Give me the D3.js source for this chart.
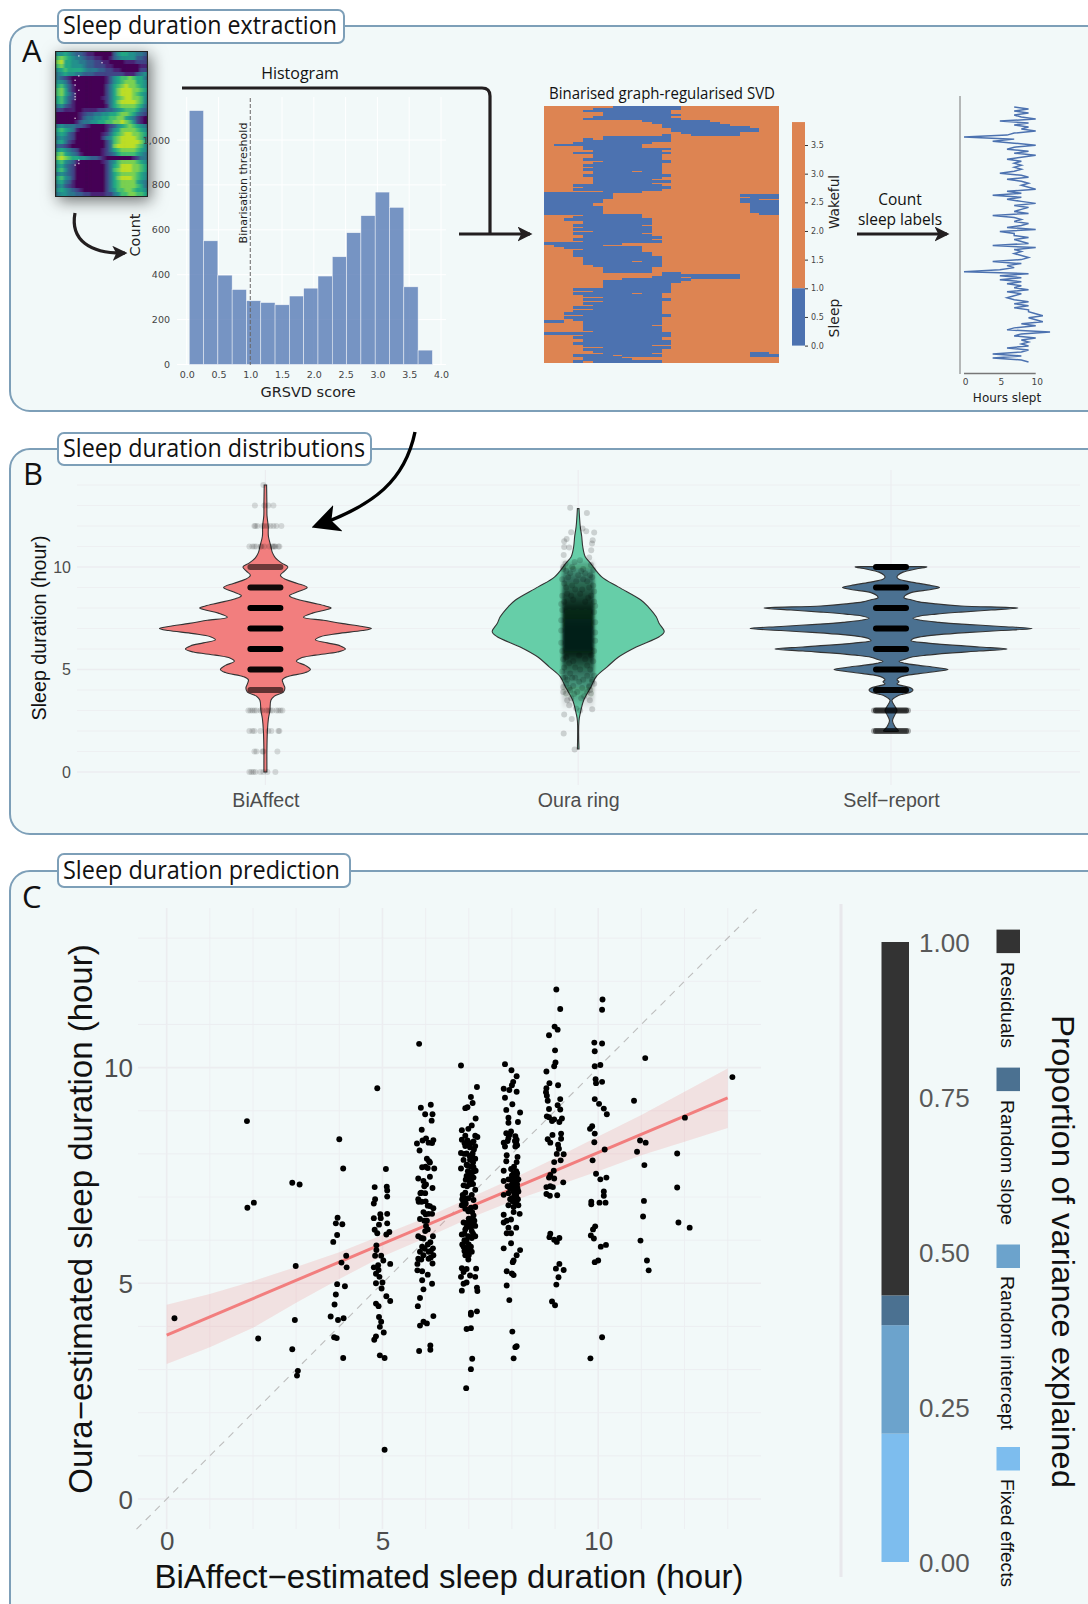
<!DOCTYPE html>
<html>
<head>
<meta charset="utf-8">
<script src="https://cdn.jsdelivr.net/npm/d3@7"></script>
<style>
body { margin: 0; background: #fff; }
svg { display: block; }
.ann { font-family: "Open Sans", sans-serif; fill: #111; }
.mpl text, .mpl { font-family: "DejaVu Sans", sans-serif; }
.gg text, .gg { font-family: "Liberation Sans", Arial, sans-serif; }
</style>
</head>
<body>
<div id="chart"></div>
<script>
// A: raw matrix, digits are viridis levels 0-9, rows top to bottom
var rawMatrix = [
  "556543321100000356655443","787654432211001345555332","896655443322110000111222",
  "786655543322211000000011","567666654443322110000022","456554433322222222111345",
  "432100000000013567787664","554200000000013567888665","675310000000024678988765",
  "786310000000024689998876","786420000000024689998765","675320000000124678998875",
  "675310000000024689999875","453210000000014678888764","221110011112233456777643",
  "000000123344556678876432","000000134455667788654210","000001344556677889875210",
  "454443321000012356787654","676541000000013568888765","565320000000124678998876",
  "454320000000245789999875","564210000000024789999986","332100000000024899999875",
  "565432000000124678888765","786543100000123467777654","898766554332100000001244",
  "675431000000124578888765","564320000000024679998876","675320000000024789998876",
  "454320000000024678888765","675420000000024689998765","564310000000024678888654",
  "453210000000024678888764","565432100000024577887665","455443322111122457788776"
];
var rawSpecks = [[5.9,0.8],[12,2.5],[5.9,5.8],[4.9,6.9],[4.9,8.1],[5.9,9.4],[4.9,10.25],[4.9,11],[4.9,11.7],[4.9,16.4],[5.9,26.9],[5.9,27.7],[4.9,28.1]];

// A: histogram
var histLeft = [0.04,0.265,0.49,0.715,0.94,1.165,1.39,1.615,1.84,2.065,2.29,2.515,2.74,2.965,3.19,3.415,3.64];
var histCount = [1131,551,398,334,284,276,266,305,340,394,480,587,663,768,700,346,64];
var histBinWidth = 0.225;
var histXTicks = [0,0.5,1,1.5,2,2.5,3,3.5,4];
var histYTicks = [0,200,400,600,800,1000];

// A: binarised SVD, blue hour intervals per row [start,end,start,end...]
var sleepRows = [
  [7,14],[5,14],[4,13],[6,13],[6,14],[5,13],[4,14],[10,17],[11,18],[12,19],[12,21],[13,22],[13,22],[14,20],[12,13,15,20],
  [6,13],[4,5,6,13],[4,13],[3,11],[1,10],[4,10],[4,13],[5,12],[3,13],[5,12],[5,12],[4,12],[6,13],[5,12],[4,12],[5,12],
  [4,12],[5,9,10,12],[5,12],[4,13],[5,12],[5,11],[5,13],[5,11],[3,12],[4,13],[3,12],[6,10],[0,7],[0,7,20,24],[0,7,21,24],
  [0,6,20,22],[0,6,20,24],[0,5,21,24],[0,5,21,24],[0,6,21,24],[0,6,21,24],[0,6,21,24],[0,6,22,24],[4,10],[3,10],[2,11],
  [4,11],[4,11],[3,10],[4,11],[3,11],[5,11],[3,10],[4,11],[4,12],[3,11],[4,12],[0,8],[1,6],[2,10],[4,10],[3,10],[3,11],
  [3,11],[4,12],[4,12],[4,9,10,12],[4,12],[5,12],[6,11],[6,11],[6,11],[12,14],[12,20],[11,14,15,20],[8,15],[6,14],[6,13],
  [6,13],[6,13],[3,13],[5,13],[3,9,10,12],[4,12],[6,12],[4,13],[6,12],[4,12],[5,12],[3,12],[5,12],[3,12],[2,12],[4,13],
  [2,12],[3,12],[0,2,4,12],[4,12],[4,11],[4,12],[4,12],[5,12],[0,13],[4,13],[3,12],[4,12],[4,13],[3,13],[4,11],[6,13],
  [4,12],[5,12],[6,11,21,23],[3,7,8,12,21,24],[4,8],[4,9],[3,4,5,12]
];
var colorbarTicks = [0,0.5,1,1.5,2,2.5,3,3.5];

// A: hours slept per row, same rows as the heatmap
var hoursSlept = [
  7,9,7,9,7,8,10,5,9,7,9,8,10,7,6,0, 7,4,7,10,7,6,9,7,10,8,6,8,7,8,7,8,
  7,5,8,9,6,8,9,8,9,10,6,8,4,8,6,8, 10,7,9,8,7,9,4,7,8,7,9,8,6,10,5,7,
  7,9,7,8,9,4,10,7,8,7,8,9,8,4,8,6, 7,5,0,9,5,8,5,8,6,8,7,9,6,8,7,6,
  7,9,7,9,7,9,9,10,11,9,10,11,8,10,7,6, 12,8,7,10,8,9,8,9,6,9,8,4,8,4,8,9
];
var hoursTicks = [0,5,10];

// B: violin outlines, relative width at each hour
var violinGroups = ["BiAffect","Oura ring","Self\u2212report"];
var biaffectHours = [14,13,12.5,12,11.5,11,10.7,10.45,10.2,10,9.8,9.6,9.4,9.2,9,8.8,8.6,8.45,8.25,8.1,8,7.9,7.75,7.55,7.4,7.25,7.1,7,6.9,6.75,6.6,6.45,6.3,6.15,6,5.85,5.7,5.55,5.4,5.2,5,4.85,4.65,4.5,4.3,4.1,3.9,3.7,3.5,3,2.6,2,1,0.3,0];
var biaffectWidth = [1.2,1.5,1.6,2.8,3,5.5,7,10,16,22.5,19,15,20,32,41.8,33,24,30,47,60,65.7,60,47,38,58,76,97,106,97,72,55,50,62,75,80,72,50,35,31,40,45,40,22,17,18,19.5,18,9,5.5,4.5,3,2,1.5,1.5,1.5];
var ouraHours = [12.85,12,11.5,11,10.5,10.2,9.52,9.03,8.38,8.06,7.57,7.24,6.84,6.6,6.1,5.6,5.13,4.65,4.15,3.5,2.85,2.5,1.12];
var ouraWidth = [0.8,2,3.5,4.5,7,12,23.5,40,63,70,78,81,86,81,58,40,29,18,12.7,5.5,2,0.8,0.8];
var selfHours = [10.02,10,9.9,9.75,9.6,9.5,9.4,9.25,9.1,9,8.9,8.75,8.6,8.5,8.4,8.3,8.2,8.1,8,7.9,7.8,7.7,7.6,7.5,7.4,7.3,7.2,7.1,7,6.9,6.8,6.7,6.6,6.5,6.4,6.3,6.2,6.1,6,5.9,5.8,5.7,5.6,5.5,5.4,5.3,5.2,5.1,5,4.9,4.8,4.7,4.6,4.5,4.4,4.3,4.2,4.1,4,3.9,3.8,3.7,3.5,3.2,3,2.8,2.5,2.2,2,1.98];
var selfWidth = [30,36,25,12,7,6,8,22,40,48.5,40,20,14,13,20,28,45,70,127,100,70,45,28,22,30,48,75,110,141,110,75,48,30,22,20,35,58,88,116,88,58,35,20,14,8,14,28,45,57,45,28,14,8,6,8,6,12,20,22,20,12,6,1,4,6,4,1.5,4,7.5,5];

// B: jitter, hour and horizontal offset of each observation
var biaffectSparse = [
  [14,[-2]],[13,[-10.5,-1,3,8]],[12,[-11,-10,-8,-3,-1,2,5,8,11,16]],[11,[-16,-13,-11,-9,-5,-4,-1,4,7,8,9,10,13,14]],
  [3,[-17,-15,-13,-11,-9,-5,-3,1,3,5,7,11,13,15,17]],[2,[-16,-13,-11,-5,3,6,13,14]],[1,[-11,-9,-3,-2,12]],[0,[-16,-14,-12,-10,-5,-2,2,10]]
];
var bandOffsets = [-17,-15,-13,-11,-9,-7,-5,-3,-1,1,3,5,7,9,11,13,15,17];
var biaffectBandHours = [10,9,8,7,6,5,4];
var biaffectBandAlpha = [0.55,0.92,1,1,1,0.95,0.6];
var selfBandHours = [10,9,8,7,6,5,4,3,2];
var selfBandAlpha = [1,1,1,1,1,1,0.95,0.5,0.4];
var ouraOutliers = [
  [-8,12.89],[8.7,12.64],[4.3,11.88],[8,11.75],[16,11.68],[-7,11.7],[-11.6,11.36],[-14,11.26],[14.5,11.3],[13.8,11.15],[-14,10.98],[-9,10.95],[13,10.82],
  [-14.5,10.58],[11,10.46],[-12.7,10.17],[12.7,10.1],[1.8,10.33],[-3.6,10.25],[-15,10],[-6,10],[5,9.9],[15,9.85],[-12,3.83],[12.7,3.83],[-11,3.5],[11.6,3.5],
  [-9,3.26],[14,3.06],[-14,2.8],[-6.5,2.58],[-14.5,1.88],[-3.6,1.1],[10.9,4.15],[16,4.3],[-15,4.15],[-2,3.1],[2,3],[-8,4],[6,3.7],[-13,4.6],[14,4.5]
];
var ouraSpeckle = [
  [-15,9.9],[-8,9.7],[3,9.8],[12,9.6],[-16,9.4],[-2,9.3],[9,9.3],[15,9.1],[-12,9],[4,8.9],[16,8.8],[-16,8.6],[-7,8.6],[10,8.5],[-14,8.3],[16,8.3],[-16,7.9],[16,7.8],
  [-17,7.4],[17,7.3],[-17,6.9],[17,6.8],[-17,6.3],[17,6.4],[-16,5.9],[16,5.9],[-15,5.5],[-5,5.4],[7,5.5],[15,5.4],[-14,5.1],[2,5],[12,5],[-16,4.9],[-8,4.8],[16,4.7],[-11,4.5],[5,4.5],[-5,4.2],[11,4.2],[-1,3.9],[9,3.9],
  [-12,9.8],[-5,9.9],[7,9.7],[14,9.5],[-10,9.5],[0,9.6],[5,9.4],[-14,9.2],[-6,9.1],[11,9],[-3,8.9],[-11,8.7],[2,8.7],[13,8.6],[-5,8.4],[7,8.3],[-17,8.2],[17,8.1],
  [-12,5.6],[1,5.7],[13,5.7],[-9,5.3],[9,5.2],[-3,5.1],[-15,4.6],[-6,4.6],[9,4.7],[1,4.4],[14,4.4],[-12,4.3],[-3,4.6],[4,4.1],[-9,4.1],[-4,3.8],[12,4],[-15,3.9],[3,3.6],[-7,3.6]
];
var ouraBandHours = [10.4,10,9.5,9,8.5,8,7,6,5.7,5.2,4.7,4,3.5,3];
var ouraBandAlpha = [0,0.25,0.5,0.62,0.78,0.93,0.99,0.99,0.9,0.65,0.45,0.25,0.12,0];

// C: scatter, grouped by BiAffect hour
var scatterLow = [
  [0.18,4.19],[1.86,8.76],[1.87,6.75],[2.02,6.87],[2.12,3.72],[2.91,7.33],[3.08,7.29],[2.99,5.4],[2.97,4.15],[2.91,3.47],[3.04,2.97],[3.02,2.86]
];
var scatter4 = [
  [4,8.34],[4.09,7.66],[3.96,6.52],[3.92,6.39],[4.07,6.37],[3.95,6.12],[3.86,5.96],[4.16,5.64],[4.05,5.48],[4.17,5.37],[3.95,4.98],[4.13,4.93],[3.92,4.74],[3.89,4.51],[3.8,4.23],[3.97,4.15],[4.1,4.19],[3.88,3.75],[3.94,3.73],[4.09,3.27]
];
var scatter5 = [
  [4.88,9.52],[5.08,7.65],[4.82,7.23],[5.1,7.24],[5.11,7.15],[5.11,7.01],[4.83,6.95],[4.8,6.85],[5.11,6.61],[4.95,6.6],[4.8,6.51],[4.96,6.51],[5.11,6.39],[4.92,6.36],[4.82,6.24],[4.88,6.16],[5.16,6.19],[5.09,6.13],[4.86,5.88],[4.86,5.77],[4.97,5.64],[4.83,5.64],[5.02,5.53],[5.18,5.45],[4.9,5.42],[4.8,5.37],[4.91,5.31],[4.85,5.22],[4.93,5.15],[4.85,5],[5,5.02],[4.98,4.88],[5.09,4.7],[5.18,4.59],[4.85,4.53],[4.91,4.47],[4.92,4.22],[4.97,4.11],[4.94,3.99],[5.03,3.86],[4.85,3.77],[4.81,3.69],[4.94,3.33],[5.05,3.27],[5.05,1.14]
];
var scatter6 = [
  [5.85,10.55],[6.12,9.14],[5.89,9.07],[5.99,8.92],[6.16,8.92],[6.14,8.77],[5.91,8.56],[6.01,8.36],[5.8,8.24],[5.93,8.31],[6.07,8.26],[6.18,8.32],[6.15,8.25],[5.86,8.08],[6.03,7.89],[6.08,7.83],[5.92,7.69],[6.05,7.67],[6.2,7.66],[6.1,7.47],[5.83,7.43],[5.95,7.37],[6.01,7.29],[6.16,7.21],[5.99,7.09],[5.88,7.09],[5.83,6.95],[5.91,6.89],[5.84,6.89],[6.1,6.79],[6.18,6.74],[5.95,6.65],[6.07,6.61],[6.15,6.61],[5.87,6.49],[6.03,6.45],[6.01,6.33],[5.99,6.21],[5.83,6.09],[5.95,6.04],[6.17,6.09],[6.11,5.95],[5.92,5.85],[6.17,5.81],[5.87,5.73],[6.07,5.73],[5.95,5.65],[6.18,5.65],[5.83,5.57],[6.07,5.57],[5.81,5.45],[6.16,5.46],[5.81,5.3],[5.92,5.28],[6.05,5.2],[5.92,5.07],[6.15,4.99],[5.95,4.86],[5.87,4.66],[5.82,4.47],[6.18,4.24],[5.95,4.11],[6.03,4.07],[5.87,4.02],[6.11,3.56],[6.11,3.46],[5.85,3.43],
  [5.9,7.1],[6,6.9],[6.05,6.8],[6,6.6],[5.97,6.45],[6.05,6.25],[5.9,6.05],[6.05,5.9],[6.12,5.75],[5.98,5.8],[6.12,5.6],[5.9,5.55],[6.1,7.8],[6,7.7],[5.97,7.25]
];
var scatter7 = [
  [6.82,10.05],[7.19,9.55],[7.05,9.32],[7.09,9.18],[6.97,9.08],[6.92,9.06],[7.16,8.82],[7.07,8.66],[6.99,8.58],[6.84,8.55],[6.92,8.42],[7.15,8.42],[6.84,8.33],[6.97,8.31],[7.11,8.29],[7.2,8.39],[6.92,8.18],[7.03,8.15],[7.15,8.18],[6.82,8.02],[6.95,8.01],[7.09,8.01],[6.88,7.86],[7.03,7.86],[7.15,7.89],[6.97,7.73],[7.11,7.69],[6.82,7.66],[7.05,7.57],[7.16,7.61],[6.95,7.49],[7.11,7.45],[7.02,7.37],[6.88,7.27],[7.15,7.17],[7.02,7.29],[6.86,7.05],[7.07,7.05],[6.99,6.97],[6.88,6.89],[7.11,6.93],[6.84,6.81],[6.92,6.73],[7.15,6.77],[6.99,6.67],[7.11,6.57],[6.88,6.41],[7.03,6.41],[7.15,6.33],[6.92,6.25],[7.07,6.21],[6.84,6.13],[6.99,6.09],[7.15,6.09],[7.07,6.05],[6.92,5.97],[6.88,5.85],[7.03,5.81],[6.95,5.73],[7.07,5.73],[6.92,5.65],[6.99,5.55],[6.84,5.35],[6.95,5.33],[7.17,5.34],[6.88,5.26],[7.03,5.18],[7.15,5.15],[6.82,5.15],[6.88,4.99],[6.95,5.02],[6.84,4.83],[7.19,4.9],[7.2,4.82],[7.19,4.35],[7.05,4.32],[7.05,4.27],[7.05,3.96],[6.95,3.94],[7.08,3.25],[7.05,3.01],[6.94,2.57],
  [7,8.2],[7.08,7.95],[7.05,7.7],[6.98,7.6],[7.06,7.35],[6.92,6.95],[7.08,6.5],[6.95,6.3],[7.12,6.35],[6.9,6],[7,5.9],[6.85,5.9],
  [6.9,8.25],[7.05,8.25],[7.12,8.1],[6.9,8],[7.02,7.95],[6.95,7.75],[7.1,7.8],[7.12,7.6],[7,7.45],[7.07,7.5],[6.93,7.4],[6.96,7.25],[7.1,7.3],[6.87,7],[6.92,7.1],[6.85,6.95],[6.93,6.85],[7.05,6.75],[7.08,6.65],[7,6.5],[7.13,6.45],[6.95,6.4],[7.05,6.3],[6.9,6.15],[7.1,6.15],[6.95,6],[7.05,5.85],[6.97,5.8],[6.9,5.75],[7,5.65]
];
var scatter8 = [
  [7.84,10.08],[7.99,9.94],[8.11,9.8],[8.03,9.67],[8,9.59],[7.81,9.51],[7.94,9.48],[8.11,9.44],[7.84,9.3],[8.01,9.15],[7.87,9.02],[8.19,8.96],[7.92,8.84],[8.14,8.74],[7.92,8.72],[7.87,8.48],[7.98,8.52],[7.81,8.26],[7.92,8.37],[8.08,8.41],[8.11,8.33],[7.84,8.17],[8.08,8.17],[7.88,7.97],[8.13,7.93],[7.87,7.83],[8.11,7.81],[7.81,7.61],[7.98,7.65],[8.11,7.49],[7.81,7.37],[7.92,7.41],[8.04,7.45],[8.15,7.41],[8,7.29],[8.11,7.25],[7.81,7.05],[7.92,7.09],[8.04,7.13],[8.15,7.13],[8,6.97],[8.11,6.97],[7.92,6.81],[8.04,6.77],[8.15,6.81],[7.81,6.59],[8.04,6.65],[8.18,6.61],[7.88,6.45],[7.81,6.41],[7.98,6.48],[7.92,6.29],[8.1,6.29],[7.88,6.16],[7.98,6.16],[7.98,5.93],[7.81,5.81],[8.19,5.77],[8.11,5.65],[8.04,5.53],[8.02,5.49],[7.88,5.28],[8,5.23],[8.04,5.19],[7.88,4.95],[7.94,4.61],[8.01,3.88],[8.11,3.54],[8.08,3.52],[8.04,3.26],
  [8.02,7.35],[8.08,7.2],[7.96,7.2],[8.06,7.05],[8.12,7.3],[7.9,7.25],[8,7.5],
  [8.05,7.7],[8.1,7.6],[8.04,7.55],[8.12,7.55],[8.08,7.4],[8,7.4],[8.13,7.2],[8.05,7.25],[8.1,7.05],[8.02,6.9],[8.1,6.85],[8.05,6.95],[7.96,6.95],[8.14,6.95],[8.1,8.25],[8.07,8.3],[7.95,8.45],[7.9,8.3],[8.12,8.2]
];
var scatter9 = [
  [9.03,11.81],[9.12,11.36],[8.99,10.95],[9.06,10.88],[8.86,10.75],[9,10.4],[9.01,10.12],[8.98,10.03],[8.8,9.91],[8.87,9.64],[9.07,9.59],[8.8,9.52],[8.79,9.43],[8.81,9.35],[8.83,9.23],[9.12,9.27],[8.86,9.04],[9.06,9.13],[9.12,9.03],[8.81,8.87],[8.86,8.85],[8.93,8.76],[8.98,8.8],[9.1,8.74],[9.16,8.82],[8.94,8.44],[9.14,8.47],[8.83,8.34],[8.89,8.26],[9.14,8.35],[9.07,8.21],[9.09,8.12],[9.2,7.99],[9.04,8],[9.13,7.85],[8.98,7.81],[8.97,7.61],[8.89,7.51],[8.98,7.43],[8.86,7.45],[9.19,7.34],[8.8,7.23],[8.95,7.23],[8.89,7.25],[8.8,7.07],[8.88,7.03],[9.05,7.04],[8.89,6.15],[8.87,6.07],[9.1,6.05],[8.98,6.01],[9.04,5.96],[9.1,5.45],[9.02,5.34],[9.2,5.31],[9.08,5.14],[9.03,4.97],[8.93,4.58],[9,4.49]
];
var scatter10 = [
  [10.1,11.58],[10.09,11.34],[9.91,10.58],[10.09,10.56],[9.92,10.38],[10.05,10.06],[9.92,10.03],[9.94,9.73],[10.09,9.67],[9.95,9.64],[9.92,9.27],[10.02,9.16],[10.13,9.05],[10.2,8.92],[9.86,8.64],[9.81,8.58],[9.92,8.47],[9.91,8.27],[10.15,8.1],[9.87,7.85],[9.95,7.54],[10.05,7.41],[10.19,7.45],[10.13,7.13],[10.13,7.03],[9.84,6.89],[9.84,6.83],[10.03,6.87],[10.17,6.87],[9.93,6.32],[9.88,6.25],[9.83,6.11],[9.9,6.04],[10.06,5.85],[10.18,5.89],[9.92,5.49],[10,5.53],[10.09,3.75],[9.82,3.26]
];
var scatterHigh = [
  [11.09,10.22],[10.83,9.23],[10.97,8.31],[11.1,8.26],[10.9,8.05],[11.07,7.74],[11.06,6.91],[11.04,6.55],[10.98,5.99],[11.13,5.53],[11.17,5.3],[12.01,8.84],[11.83,8.01],[11.83,7.22],[11.86,6.41],[12.12,6.29],[13.11,9.78]
];
var fitX = [0,13];
var fitY = [3.8,9.3];
var ciX = [0,1,2,3,4,5,6,7,8,9,10,11,12,13];
var ciUpper = [4.5,4.75,5.05,5.38,5.72,6.12,6.52,6.97,7.42,7.9,8.4,8.9,9.44,9.98];
var ciLower = [3.13,3.52,3.97,4.55,5.1,5.62,6.05,6.5,6.9,7.25,7.6,7.97,8.28,8.6];
var scatterTicks = [0,5,10];
var scatterGrid = [0,1,2,3,4,5,6,7,8,9,10,11,12,13];

// C: variance decomposition
var varianceNames = ["Fixed effects","Random intercept","Random slope","Residuals"];
var varianceShare = [0.207,0.175,0.048,0.57];
var varianceColors = ["#7dbdee","#6ca3cc","#4b7191","#333333"];
var varianceTicks = [0,0.25,0.5,0.75,1];

var width = 1088, height = 1604;
var panelFill = "#f2f9f9", panelStroke = "#7d9fb8", gridColor = "#ecedf0";

var svg = d3.select("#chart").append("svg").attr("width", width).attr("height", height);
var defs = svg.append("defs");

defs.append("filter").attr("id", "shadow").attr("x", "-40%").attr("y", "-40%").attr("width", "180%").attr("height", "180%")
  .append("feDropShadow").attr("dx", 3).attr("dy", 4).attr("stdDeviation", 8).attr("flood-color", "#000").attr("flood-opacity", 0.55);
defs.append("filter").attr("id", "soft").attr("x", "-20%").attr("y", "-10%").attr("width", "140%").attr("height", "120%")
  .append("feGaussianBlur").attr("stdDeviation", 1.5);
defs.append("filter").attr("id", "softer").attr("filterUnits", "userSpaceOnUse")
  .attr("x", 56).attr("y", 52).attr("width", 91).attr("height", 144)
  .append("feGaussianBlur").attr("stdDeviation", "1,0.5");

function marker(id, color, size) {
  defs.append("marker").attr("id", id).attr("viewBox", "0 0 12 12").attr("refX", 10).attr("refY", 6)
    .attr("markerWidth", size).attr("markerHeight", size).attr("markerUnits", "userSpaceOnUse").attr("orient", "auto")
    .append("path").attr("d", "M0,0 L12,6 L0,12 L3,6 Z").attr("fill", color);
}
marker("arrowDark", "#231f20", 15);
marker("arrowBig", "#000", 28);

function panel(x, y, w, h) {
  svg.append("rect").attr("x", x).attr("y", y).attr("width", w).attr("height", h).attr("rx", 20)
    .attr("fill", panelFill).attr("stroke", panelStroke).attr("stroke-width", 2);
}
function titleBox(text, x, y, w, h, textX, baseY, textW, letter, lx, ly) {
  svg.append("rect").attr("x", x).attr("y", y).attr("width", w).attr("height", h).attr("rx", 6)
    .attr("fill", "#fff").attr("stroke", panelStroke).attr("stroke-width", 2);
  svg.append("text").attr("class", "ann").attr("x", textX).attr("y", baseY).attr("font-size", 26)
    .attr("textLength", textW).attr("lengthAdjust", "spacingAndGlyphs").text(text);
  svg.append("text").attr("class", "ann").attr("x", lx).attr("y", ly).attr("font-size", 31).text(letter);
}
function cleanAxis(g, size, color) {
  g.select(".domain").remove();
  g.selectAll("text").attr("font-size", size).attr("fill", color);
}

panel(10, 26, 1100, 385);
panel(10, 449, 1100, 385);
panel(10, 871, 1100, 760);
titleBox("Sleep duration extraction", 58, 10, 286, 33, 63, 34, 274, "A", 22, 62);
titleBox("Sleep duration distributions", 58, 433, 313, 32, 63, 457, 302, "B", 23, 485);
titleBox("Sleep duration prediction", 58, 854, 292, 33, 63, 879, 277, "C", 22, 908);

// ---------- panel A ----------
var rawX = d3.scaleBand().domain(d3.range(rawMatrix[0].length)).range([56, 147]);
var rawY = d3.scaleBand().domain(d3.range(rawMatrix.length)).range([52, 196]);
var rawG = svg.append("g");
rawG.append("rect").attr("x", 55).attr("y", 51).attr("width", 93).attr("height", 146)
  .attr("fill", "#222").attr("filter", "url(#shadow)");
var rawCells = rawG.append("g").attr("filter", "url(#softer)");
rawMatrix.forEach(function (row, r) {
  rawCells.selectAll(null).data(row.split("")).enter().append("rect")
    .attr("x", function (d, c) { return rawX(c); })
    .attr("y", rawY(r))
    .attr("width", rawX.bandwidth() + 0.5)
    .attr("height", rawY.bandwidth() + 0.5)
    .attr("fill", function (d) { return d3.interpolateViridis(+d / 9 * 0.9); });
});
rawG.selectAll(".speck").data(rawSpecks).enter().append("rect").attr("class", "speck")
  .attr("x", function (d) { return rawX(0) + d[0] * rawX.step(); })
  .attr("y", function (d) { return rawY(0) + d[1] * rawY.step(); })
  .attr("width", 1).attr("height", 1.4).attr("fill", "#fff");

// histogram
var histG = svg.append("g").attr("class", "mpl");
var histX = d3.scaleLinear().domain([0, 4]).range([186.7, 441]);
var histY = d3.scaleLinear().domain([0, 1000]).range([364.5, 140]);
histG.selectAll(".gx").data(histXTicks).enter().append("line")
  .attr("x1", histX).attr("x2", histX).attr("y1", 97).attr("y2", 365).attr("stroke", "#fff").attr("stroke-width", 1);
histG.selectAll(".gy").data(histYTicks).enter().append("line")
  .attr("x1", 177).attr("x2", 446).attr("y1", histY).attr("y2", histY).attr("stroke", "#fff").attr("stroke-width", 1);
histG.selectAll(".bar").data(histCount).enter().append("rect")
  .attr("x", function (d, i) { return histX(histLeft[i]); })
  .attr("width", histX(histBinWidth) - histX(0))
  .attr("y", histY)
  .attr("height", function (d) { return histY(0) - histY(d); })
  .attr("fill", "#4c72b0").attr("fill-opacity", 0.75).attr("stroke", "#fff").attr("stroke-opacity", 0.75).attr("stroke-width", 0.6);
histG.append("line").attr("x1", histX(1)).attr("x2", histX(1)).attr("y1", 98).attr("y2", 365)
  .attr("stroke", "#666").attr("stroke-width", 1).attr("stroke-dasharray", "4,2");
histG.append("g").attr("transform", "translate(0,365)")
  .call(d3.axisBottom(histX).tickValues(histXTicks).tickFormat(d3.format(".1f")).tickSize(0).tickPadding(6))
  .call(cleanAxis, 9.5, "#444").attr("font-family", null);
histG.append("g").attr("transform", "translate(170,0)")
  .call(d3.axisLeft(histY).tickValues(histYTicks).tickSize(0).tickPadding(0))
  .call(cleanAxis, 9.5, "#444").attr("font-family", null);
histG.append("text").attr("x", 308).attr("y", 397).attr("text-anchor", "middle").attr("font-size", 14.5).attr("fill", "#222").text("GRSVD score");
histG.append("text").attr("transform", "translate(140,235) rotate(-90)").attr("text-anchor", "middle").attr("font-size", 14.5).attr("fill", "#222").text("Count");
histG.append("text").attr("transform", "translate(247,183) rotate(-90)").attr("text-anchor", "middle").attr("font-size", 11).attr("fill", "#222").text("Binarisation threshold");

// arrows of panel A
svg.append("path").attr("d", "M182,88 H482 Q490,88 490,96 V234").attr("fill", "none").attr("stroke", "#231f20").attr("stroke-width", 3.2);
svg.append("path").attr("d", "M459,234 H530").attr("fill", "none").attr("stroke", "#231f20").attr("stroke-width", 3.2).attr("marker-end", "url(#arrowDark)");
svg.append("path").attr("d", "M75,213 C70,240 90,254 125,253").attr("fill", "none").attr("stroke", "#231f20").attr("stroke-width", 3.2).attr("marker-end", "url(#arrowDark)");
svg.append("path").attr("d", "M857,234 H947").attr("fill", "none").attr("stroke", "#231f20").attr("stroke-width", 3.2).attr("marker-end", "url(#arrowDark)");
svg.append("text").attr("class", "ann").attr("x", 300).attr("y", 79).attr("text-anchor", "middle").attr("font-size", 16).text("Histogram");
svg.append("text").attr("class", "ann").attr("x", 662).attr("y", 99).attr("text-anchor", "middle").attr("font-size", 15.5)
  .attr("textLength", 226).attr("lengthAdjust", "spacingAndGlyphs").text("Binarised graph-regularised SVD");
svg.append("text").attr("class", "ann").attr("x", 900).attr("y", 205).attr("text-anchor", "middle").attr("font-size", 15.5).text("Count");
svg.append("text").attr("class", "ann").attr("x", 900).attr("y", 225).attr("text-anchor", "middle").attr("font-size", 15.5).text("sleep labels");

// binarised SVD
var hourX = d3.scaleLinear().domain([0, 24]).range([544, 779]);
var rowY = d3.scaleBand().domain(d3.range(sleepRows.length)).range([106, 362.5]);
var heatG = svg.append("g").attr("shape-rendering", "crispEdges");
heatG.append("rect").attr("x", hourX(0)).attr("y", rowY(0)).attr("width", hourX(24) - hourX(0)).attr("height", rowY.step() * sleepRows.length).attr("fill", "#dd8452");
sleepRows.forEach(function (row, r) {
  for (var i = 0; i < row.length; i += 2) {
    heatG.append("rect").attr("x", hourX(row[i])).attr("y", rowY(r))
      .attr("width", hourX(row[i + 1]) - hourX(row[i])).attr("height", rowY.bandwidth() + 0.4).attr("fill", "#4c72b0");
  }
});

// colourbar
var cbY = d3.scaleLinear().domain([0, 3.5]).range([345.6, 145]);
var cbG = svg.append("g").attr("class", "mpl");
cbG.append("rect").attr("x", 792).attr("y", cbY(3.9)).attr("width", 13).attr("height", cbY(1) - cbY(3.9)).attr("fill", "#dd8452");
cbG.append("rect").attr("x", 792).attr("y", cbY(1)).attr("width", 13).attr("height", cbY(0) - cbY(1)).attr("fill", "#4c72b0");
var cbAxis = cbG.append("g").attr("transform", "translate(805,0)")
  .call(d3.axisRight(cbY).tickValues(colorbarTicks).tickFormat(d3.format(".1f")).tickSize(3).tickPadding(3));
cbAxis.select(".domain").remove();
cbAxis.selectAll("line").attr("stroke", "#333");
cbAxis.selectAll("text").attr("font-size", 8).attr("fill", "#444").attr("font-family", null);
cbG.append("text").attr("transform", "translate(839,202) rotate(-90)").attr("text-anchor", "middle").attr("font-size", 13.7).attr("fill", "#222").text("Wakeful");
cbG.append("text").attr("transform", "translate(839,318) rotate(-90)").attr("text-anchor", "middle").attr("font-size", 14).attr("fill", "#222").text("Sleep");

// hours slept trace
var traceX = d3.scaleLinear().domain([0, 10]).range([964, 1035.7]);
var traceY = d3.scaleLinear().domain([0, hoursSlept.length - 1]).range([107, 362]);
var traceG = svg.append("g").attr("class", "mpl");
traceG.append("path").datum(hoursSlept).attr("fill", "none").attr("stroke", "#4c72b0").attr("stroke-width", 1.5)
  .attr("d", d3.line().x(function (d) { return traceX(d); }).y(function (d, i) { return traceY(i); }));
traceG.append("line").attr("x1", 960).attr("x2", 960).attr("y1", 96).attr("y2", 374).attr("stroke", "#777").attr("stroke-width", 1);
traceG.append("line").attr("x1", traceX(0)).attr("x2", traceX(10)).attr("y1", 373.5).attr("y2", 373.5).attr("stroke", "#777").attr("stroke-width", 1.4);
traceG.append("g").attr("transform", "translate(1,376)")
  .call(d3.axisBottom(traceX).tickValues(hoursTicks).tickSize(0).tickPadding(3))
  .call(cleanAxis, 9, "#444").attr("font-family", null);
traceG.append("text").attr("x", 1007).attr("y", 402).attr("text-anchor", "middle").attr("font-size", 12).attr("fill", "#222").text("Hours slept");

// ---------- panel B ----------
var violinG = svg.append("g").attr("class", "gg");
var catX = d3.scalePoint().domain(violinGroups).range([265.4, 891]);
var durY = d3.scaleLinear().domain([0, 10]).range([772, 567]);
var jitterX = d3.scaleLinear().domain([-20, 20]).range([-20, 20]);
var hourGrid = d3.range(0, 15);

violinG.selectAll(".hg").data(hourGrid).enter().append("line")
  .attr("x1", 77).attr("x2", 1080).attr("y1", durY).attr("y2", durY)
  .attr("stroke", gridColor).attr("stroke-width", function (d) { return d % 5 === 0 ? 1.4 : 0.8; });
violinG.selectAll(".vg").data(violinGroups).enter().append("line")
  .attr("x1", catX).attr("x2", catX).attr("y1", 470).attr("y2", 785).attr("stroke", gridColor).attr("stroke-width", 1.2);

function violin(group, hours, widths, maxPx, fill) {
  var w = d3.scaleLinear().domain([0, d3.max(widths)]).range([0, maxPx]);
  var area = d3.area().curve(d3.curveCatmullRom.alpha(0.5))
    .y(function (d) { return durY(d); })
    .x0(function (d, i) { return catX(group) - w(widths[i]); })
    .x1(function (d, i) { return catX(group) + w(widths[i]); });
  violinG.append("path").datum(hours).attr("d", area).attr("fill", fill).attr("stroke", "#333").attr("stroke-width", 1.1);
}
violin(violinGroups[0], biaffectHours, biaffectWidth, 106, "#f27e7e");
violin(violinGroups[1], ouraHours, ouraWidth, 86, "#66cea8");
violin(violinGroups[2], selfHours, selfWidth, 141, "#4b7191");

function dotRow(group, hour, offsets, alpha) {
  violinG.append("g").selectAll("circle").data(offsets).enter().append("circle")
    .attr("cx", function (d) { return catX(group) + jitterX(d); })
    .attr("cy", durY(hour)).attr("r", 3).attr("fill", "#000").attr("fill-opacity", alpha);
}
biaffectSparse.forEach(function (d) { dotRow(violinGroups[0], d[0], d[1], 0.13); });
biaffectBandHours.forEach(function (h, i) {
  violinG.append("line").attr("x1", catX(violinGroups[0]) + jitterX(-15)).attr("x2", catX(violinGroups[0]) + jitterX(15))
    .attr("y1", durY(h)).attr("y2", durY(h)).attr("stroke", "#000").attr("stroke-width", 6).attr("stroke-linecap", "round").attr("stroke-opacity", biaffectBandAlpha[i]);
});
selfBandHours.forEach(function (h, i) {
  if (selfBandAlpha[i] < 0.9) {
    dotRow(violinGroups[2], h, bandOffsets, 0.3);
  }
  violinG.append("line").attr("x1", catX(violinGroups[2]) + jitterX(-15)).attr("x2", catX(violinGroups[2]) + jitterX(15))
    .attr("y1", durY(h)).attr("y2", durY(h)).attr("stroke", "#000").attr("stroke-width", 6).attr("stroke-linecap", "round").attr("stroke-opacity", selfBandAlpha[i]);
});

var ouraGrad = defs.append("linearGradient").attr("id", "ouraBand").attr("gradientUnits", "userSpaceOnUse")
  .attr("x1", 0).attr("x2", 0).attr("y1", durY(10.4)).attr("y2", durY(3));
ouraBandHours.forEach(function (h, i) {
  ouraGrad.append("stop").attr("offset", (durY(h) - durY(10.4)) / (durY(3) - durY(10.4))).attr("stop-color", "#021a12").attr("stop-opacity", ouraBandAlpha[i]);
});
violinG.append("rect").attr("x", catX(violinGroups[1]) + jitterX(-16)).attr("width", jitterX(16) - jitterX(-16))
  .attr("y", durY(10.4)).attr("height", durY(3) - durY(10.4)).attr("rx", 4).attr("fill", "url(#ouraBand)").attr("filter", "url(#soft)");
violinG.append("g").selectAll("circle").data(ouraSpeckle.concat(ouraOutliers)).enter().append("circle")
  .attr("cx", function (d) { return catX(violinGroups[1]) + jitterX(d[0]); })
  .attr("cy", function (d) { return durY(d[1]); })
  .attr("r", 3).attr("fill", "#000").attr("fill-opacity", 0.16);

violinG.append("g").attr("transform", "translate(0,785)")
  .call(d3.axisBottom(catX).tickSize(0).tickPadding(8))
  .call(cleanAxis, 19.6, "#4d4d4d").attr("font-family", null);
violinG.append("g").attr("transform", "translate(71,0)")
  .call(d3.axisLeft(durY).tickValues(scatterTicks).tickSize(0).tickPadding(0))
  .call(cleanAxis, 16, "#4d4d4d").attr("font-family", null);
violinG.append("text").attr("transform", "translate(46,628) rotate(-90)").attr("text-anchor", "middle").attr("font-size", 19.7).attr("fill", "#111").text("Sleep duration (hour)");

// big arrow from panel A down to panel B
svg.append("path").attr("d", "M415,432 C405,480 375,505 316,526").attr("fill", "none").attr("stroke", "#000").attr("stroke-width", 3.4).attr("marker-end", "url(#arrowBig)");

// ---------- panel C ----------
var scatterG = svg.append("g").attr("class", "gg");
var xC = d3.scaleLinear().domain([0, 10]).range([166.7, 598.2]);
var yC = d3.scaleLinear().domain([0, 10]).range([1499, 1067.6]);
var scatterPoints = scatterLow.concat(scatter4, scatter5, scatter6, scatter7, scatter8, scatter9, scatter10, scatterHigh);

scatterG.selectAll(".gv").data(scatterGrid).enter().append("line")
  .attr("x1", xC).attr("x2", xC).attr("y1", 908).attr("y2", 1529)
  .attr("stroke", gridColor).attr("stroke-width", function (d) { return d % 5 === 0 ? 1.6 : 0.9; });
scatterGrid.forEach(function (d) {
  scatterG.append("line").attr("x1", 138).attr("x2", 761).attr("y1", yC(d)).attr("y2", yC(d))
    .attr("stroke", gridColor).attr("stroke-width", d % 5 === 0 ? 1.6 : 0.9);
});
scatterG.append("line").attr("x1", xC(-0.7)).attr("y1", yC(-0.7)).attr("x2", xC(13.67)).attr("y2", yC(13.67))
  .attr("stroke", "#bdbdbd").attr("stroke-width", 1.1).attr("stroke-dasharray", "7,6");
scatterG.append("path").datum(ciX).attr("fill", "#f08080").attr("fill-opacity", 0.2)
  .attr("d", d3.area().x(function (d) { return xC(d); })
    .y0(function (d, i) { return yC(ciLower[i]); })
    .y1(function (d, i) { return yC(ciUpper[i]); }));
scatterG.append("line").attr("x1", xC(fitX[0])).attr("y1", yC(fitY[0])).attr("x2", xC(fitX[1])).attr("y2", yC(fitY[1]))
  .attr("stroke", "#f27e7e").attr("stroke-width", 3);
scatterG.append("g").selectAll("circle").data(scatterPoints).enter().append("circle")
  .attr("cx", function (d) { return xC(d[0]); })
  .attr("cy", function (d) { return yC(d[1]); })
  .attr("r", 2.95).attr("fill", "#000");

scatterG.append("g").attr("transform", "translate(0,1531)")
  .call(d3.axisBottom(xC).tickValues(scatterTicks).tickSize(0).tickPadding(1))
  .call(cleanAxis, 26, "#4d4d4d").attr("font-family", null);
scatterG.append("g").attr("transform", "translate(133,1)")
  .call(d3.axisLeft(yC).tickValues(scatterTicks).tickSize(0).tickPadding(0))
  .call(cleanAxis, 26, "#4d4d4d").attr("font-family", null);
scatterG.append("text").attr("x", 449).attr("y", 1588).attr("text-anchor", "middle").attr("font-size", 33).attr("fill", "#111").text("BiAffect\u2212estimated sleep duration (hour)");
scatterG.append("text").attr("transform", "translate(92,1219) rotate(-90)").attr("text-anchor", "middle").attr("font-size", 33).attr("fill", "#111").text("Oura\u2212estimated sleep duration (hour)");

// separator and stacked bar
var varG = svg.append("g").attr("class", "gg");
varG.append("line").attr("x1", 841).attr("x2", 841).attr("y1", 904).attr("y2", 1577).attr("stroke", "#e8e8ec").attr("stroke-width", 3);
var yVar = d3.scaleLinear().domain([0, 1]).range([1562, 942]);
var stackTop = d3.cumsum(varianceShare);
varG.selectAll(".seg").data(varianceShare).enter().append("rect")
  .attr("x", 881.5).attr("width", 27.5)
  .attr("y", function (d, i) { return yVar(stackTop[i]); })
  .attr("height", function (d) { return yVar(0) - yVar(d); })
  .attr("fill", function (d, i) { return varianceColors[i]; });
varG.append("g").attr("transform", "translate(911,1)")
  .call(d3.axisRight(yVar).tickValues(varianceTicks).tickFormat(d3.format(".2f")).tickSize(0).tickPadding(8))
  .call(cleanAxis, 26, "#595959").attr("font-family", null);

var legendTop = [1447, 1244.5, 1067.6, 929.6];
var legendTextTop = [1479, 1276, 1100, 962];
var legendTextLen = [108, 154, 125, 86];
varG.selectAll(".key").data(varianceNames).enter().append("rect")
  .attr("x", 996.5).attr("width", 23.5).attr("height", 23.5)
  .attr("y", function (d, i) { return legendTop[i]; })
  .attr("fill", function (d, i) { return varianceColors[i]; });
varG.selectAll(".keytext").data(varianceNames).enter().append("text")
  .attr("transform", function (d, i) { return "translate(1001," + legendTextTop[i] + ") rotate(90)"; })
  .attr("font-size", 19).attr("fill", "#111")
  .attr("textLength", function (d, i) { return legendTextLen[i]; }).attr("lengthAdjust", "spacingAndGlyphs")
  .text(function (d) { return d; });
varG.append("text").attr("transform", "translate(1052,1015) rotate(90)").attr("font-size", 31).attr("fill", "#111")
  .attr("textLength", 473).attr("lengthAdjust", "spacingAndGlyphs").text("Proportion of variance explained");
</script>
</body>
</html>
